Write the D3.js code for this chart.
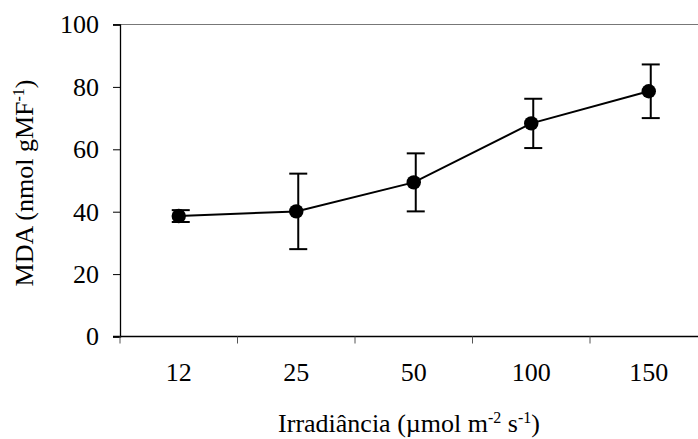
<!DOCTYPE html>
<html>
<head>
<meta charset="utf-8">
<script src="https://cdn.jsdelivr.net/npm/d3@7"></script>
<style>
  body { margin: 0; background: #fff; }
</style>
</head>
<body>
<script>
// Data
const categories = ["12", "25", "50", "100", "150"];
const mda = [38.6, 40.1, 49.4, 68.3, 78.6];
const mdaErr = [1.9, 12.1, 9.3, 7.9, 8.6];
const yTicks = [0, 20, 40, 60, 80, 100];

const w = 698;
const h = 439;
const plotLeft = 120, plotRight = 707.5, plotTop = 24.5, plotBottom = 336.5;
const serif = "'Liberation Serif', 'Times New Roman', serif";

const svg = d3.select("body")
              .append("svg")
              .attr("width", w)
              .attr("height", h)
              .attr("font-family", serif);

// Scales
const xScale = d3.scaleBand()
                 .domain(categories)
                 .range([plotLeft, plotRight])
                 .padding(0);

const yScale = d3.scaleLinear()
                 .domain([0, 100])
                 .range([plotBottom, plotTop]);

// top frame line
svg.append("line")
   .attr("x1", plotLeft - 7).attr("x2", w)
   .attr("y1", yScale(100)).attr("y2", yScale(100))
   .attr("stroke", "#777").attr("stroke-width", 1);

// Y axis
const yAxis = d3.axisLeft(yScale).tickValues(yTicks).tickSize(7).tickPadding(14);
const gy = svg.append("g")
   .attr("transform", "translate(" + plotLeft + ",0)")
   .call(yAxis)
   .attr("font-family", serif)
   .attr("font-size", 26);
gy.select(".domain").attr("stroke", "#000").attr("stroke-width", 1.3);
gy.selectAll(".tick line").attr("stroke", "#000").attr("stroke-width", 1);

// X axis: labels centred in bands, ticks at band edges
const xAxis = d3.axisBottom(xScale).tickSize(0).tickPadding(26);
const gx = svg.append("g")
   .attr("transform", "translate(0," + plotBottom + ")")
   .call(xAxis)
   .attr("font-family", serif)
   .attr("font-size", 26);
gx.select(".domain").remove();

svg.append("line")
   .attr("x1", plotLeft - 7).attr("x2", w)
   .attr("y1", plotBottom).attr("y2", plotBottom)
   .attr("stroke", "#000").attr("stroke-width", 1.6);

svg.selectAll(".xtick")
   .data(categories)
   .enter()
   .append("line")
   .attr("class", "xtick")
   .attr("x1", d => xScale(d)).attr("x2", d => xScale(d))
   .attr("y1", plotBottom).attr("y2", plotBottom + 7)
   .attr("stroke", "#555").attr("stroke-width", 1);

const cx = d => xScale(d) + xScale.bandwidth() / 2;
const pts = categories.map((c, i) => ({ c: c, v: mda[i], e: mdaErr[i] }));

// line
svg.append("path")
   .datum(pts)
   .attr("fill", "none")
   .attr("stroke", "#000")
   .attr("stroke-width", 2)
   .attr("d", d3.line().x(d => cx(d.c)).y(d => yScale(d.v)));

// error bars
const eb = svg.selectAll(".err")
   .data(pts)
   .enter()
   .append("g")
   .attr("class", "err")
   .attr("stroke", "#000")
   .attr("stroke-width", 2);
eb.append("line")
  .attr("x1", d => cx(d.c) + 2).attr("x2", d => cx(d.c) + 2)
  .attr("y1", d => yScale(d.v + d.e)).attr("y2", d => yScale(d.v - d.e));
eb.append("line")
  .attr("x1", d => cx(d.c) - 7).attr("x2", d => cx(d.c) + 11)
  .attr("y1", d => yScale(d.v + d.e)).attr("y2", d => yScale(d.v + d.e));
eb.append("line")
  .attr("x1", d => cx(d.c) - 7).attr("x2", d => cx(d.c) + 11)
  .attr("y1", d => yScale(d.v - d.e)).attr("y2", d => yScale(d.v - d.e));

// points
svg.selectAll(".pt")
   .data(pts)
   .enter()
   .append("circle")
   .attr("class", "pt")
   .attr("cx", d => cx(d.c))
   .attr("cy", d => yScale(d.v))
   .attr("r", 7.2)
   .attr("fill", "#000");

// axis titles
const xt = svg.append("text")
   .attr("x", 409)
   .attr("y", 432)
   .attr("text-anchor", "middle")
   .attr("font-size", 26);
xt.append("tspan").text("Irradiância (µmol m");
xt.append("tspan").attr("dy", -9).attr("font-size", 16).text("-2");
xt.append("tspan").attr("dy", 9).text(" s");
xt.append("tspan").attr("dy", -9).attr("font-size", 16).text("-1");
xt.append("tspan").attr("dy", 9).text(")");

const yt = svg.append("text")
   .attr("transform", "translate(33,183) rotate(-90)")
   .attr("text-anchor", "middle")
   .attr("font-size", 26);
yt.append("tspan").text("MDA (nmol gMF");
yt.append("tspan").attr("dy", -9).attr("font-size", 16).text("-1");
yt.append("tspan").attr("dy", 9).text(")");
</script>
</body>
</html>
